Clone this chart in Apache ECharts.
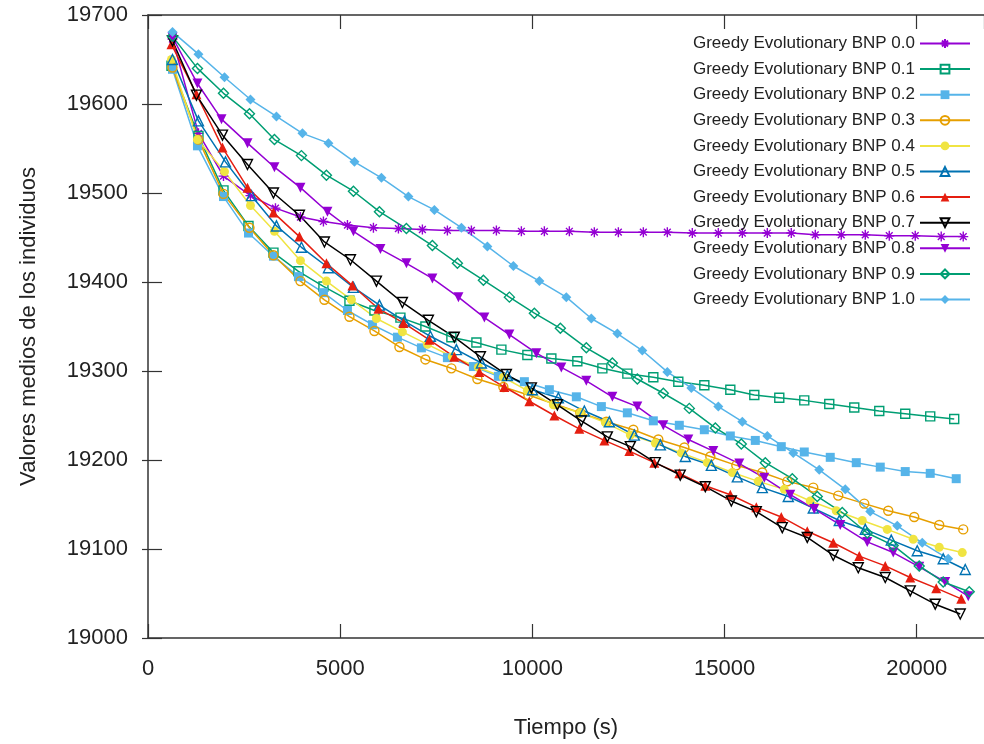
<!DOCTYPE html>
<html>
<head>
<meta charset="utf-8">
<script src="https://cdn.jsdelivr.net/npm/echarts@6/dist/echarts.min.js"></script>
<style>html,body{margin:0;padding:0;background:#fff}#c{width:984px;height:744px}</style>
</head>
<body>
<div id="c"></div>
<script>
const seriesNames = ["Greedy Evolutionary BNP 0.0","Greedy Evolutionary BNP 0.1","Greedy Evolutionary BNP 0.2","Greedy Evolutionary BNP 0.3","Greedy Evolutionary BNP 0.4","Greedy Evolutionary BNP 0.5","Greedy Evolutionary BNP 0.6","Greedy Evolutionary BNP 0.7","Greedy Evolutionary BNP 0.8","Greedy Evolutionary BNP 0.9","Greedy Evolutionary BNP 1.0"];
const xTicks = [0, 5000, 10000, 15000, 20000];
const yTicks = [19000, 19100, 19200, 19300, 19400, 19500, 19600, 19700];

const t00 = [637,1313,1964,2666,3316,3966,4564,5189,5865,6515,7139,7789,8414,9064,9714,10312,10962,11612,12237,12887,13511,14161,14838,15462,16112,16736,17360,18036,18661,19285,19961,20637,21210];
const v00 = [19673,19567,19519,19497,19483,19473,19468,19464,19461,19460,19459,19458,19458,19458,19457,19457,19457,19456,19456,19456,19456,19455,19455,19455,19455,19455,19453,19453,19453,19452,19452,19451,19451];

const t01 = [611,1313,1964,2614,3264,3914,4564,5241,5891,6567,7217,7893,8544,9194,9870,10494,11170,11821,12471,13147,13797,14474,15150,15774,16424,17074,17724,18375,19025,19701,20351,20975];
const v01 = [19643,19564,19503,19463,19433,19412,19395,19379,19368,19360,19350,19338,19332,19324,19318,19314,19311,19303,19297,19293,19288,19284,19279,19273,19270,19267,19263,19259,19255,19252,19249,19246];

const t02 = [637,1287,1964,2614,3264,3914,4564,5189,5839,6489,7113,7789,8466,9116,9792,10442,11144,11795,12471,13147,13823,14474,15150,15800,16476,17074,17750,18427,19051,19701,20351,21027];
const v02 = [19639,19553,19496,19455,19429,19406,19388,19368,19352,19338,19326,19315,19305,19294,19288,19279,19271,19260,19253,19244,19239,19234,19227,19222,19215,19209,19203,19197,19192,19187,19185,19179];

const t03 = [637,1313,1964,2640,3264,3966,4590,5241,5891,6541,7217,7893,8570,9246,9896,10572,11247,11925,12627,13277,13954,14630,15306,15982,16632,17308,17958,18635,19259,19935,20585,21210];
const v03 = [19641,19560,19499,19461,19430,19401,19380,19361,19345,19327,19313,19303,19291,19282,19273,19263,19253,19243,19234,19223,19214,19204,19194,19186,19176,19169,19160,19151,19143,19136,19127,19122];

const t04 = [611,1287,1990,2666,3290,3966,4642,5293,5943,6619,7269,7918,8596,9246,9870,10546,11247,11899,12549,13199,13874,14551,15202,15878,16554,17230,17906,18583,19233,19909,20585,21184];
const v04 = [19650,19560,19524,19486,19457,19424,19401,19380,19359,19344,19330,19316,19304,19293,19278,19262,19253,19242,19228,19219,19208,19197,19186,19176,19167,19154,19143,19132,19122,19111,19102,19096];

const t05 = [637,1313,2016,2692,3342,3992,4694,5345,6021,6671,7347,8024,8674,9350,10000,10676,11352,12003,12653,13329,13979,14656,15332,15982,16658,17308,17984,18661,19337,20013,20689,21262];
const v05 = [19650,19581,19535,19497,19463,19439,19416,19394,19374,19356,19339,19324,19309,19295,19279,19270,19255,19243,19228,19217,19204,19194,19181,19169,19159,19146,19132,19122,19110,19098,19089,19077];

const t06 = [611,1261,1938,2588,3264,3940,4642,5319,5995,6645,7321,7970,8622,9272,9922,10572,11221,11873,12523,13173,13823,14499,15150,15826,16476,17152,17828,18505,19181,19831,20507,21158];
const v06 = [19667,19611,19551,19506,19478,19451,19421,19396,19370,19354,19335,19316,19299,19282,19266,19250,19235,19222,19210,19197,19185,19171,19161,19147,19136,19120,19107,19092,19081,19068,19056,19044];

const t07 = [637,1261,1938,2588,3264,3940,4590,5267,5943,6619,7295,7970,8648,9324,9974,10650,11273,11951,12549,13199,13848,14499,15176,15826,16502,17152,17828,18479,19181,19831,20481,21132];
const v07 = [19671,19610,19565,19532,19500,19475,19445,19425,19401,19377,19357,19338,19316,19296,19281,19262,19244,19226,19215,19197,19183,19170,19154,19142,19124,19113,19093,19079,19068,19053,19038,19027];

const t08 = [637,1287,1912,2588,3290,3966,4668,5345,6047,6723,7399,8076,8752,9402,10104,10753,11404,12081,12731,13407,14057,14708,15384,16034,16710,17334,18010,18713,19389,20065,20741,21340];
const v08 = [19675,19623,19583,19556,19529,19506,19479,19457,19437,19421,19404,19383,19360,19341,19320,19304,19289,19271,19260,19239,19223,19210,19196,19180,19161,19145,19127,19108,19096,19080,19063,19047];

const t09 = [637,1287,1964,2640,3290,3992,4642,5345,6021,6723,7399,8050,8726,9402,10052,10728,11404,12081,12731,13407,14083,14760,15436,16060,16762,17412,18062,18713,19389,20065,20689,21366];
const v09 = [19676,19640,19612,19589,19560,19542,19520,19502,19479,19460,19441,19421,19402,19383,19365,19348,19326,19309,19291,19275,19258,19236,19218,19197,19179,19159,19141,19118,19104,19081,19063,19052];

const t10 = [637,1313,1990,2666,3342,4018,4694,5371,6073,6775,7451,8154,8830,9506,10182,10883,11534,12211,12861,13511,14135,14838,15462,16112,16788,17464,18141,18791,19493,20143,20819];
const v10 = [19681,19656,19630,19605,19586,19567,19556,19535,19517,19496,19481,19461,19440,19418,19401,19383,19359,19342,19323,19299,19281,19260,19243,19227,19208,19189,19167,19142,19126,19107,19089];

const times = [t00,t01,t02,t03,t04,t05,t06,t07,t08,t09,t10];
const values = [v00,v01,v02,v03,v04,v05,v06,v07,v08,v09,v10];

const colors = ['#9400d3','#009e73','#56b4e9','#e69f00','#f0e442','#0072b2','#e51e10','#000000','#9400d3','#009e73','#56b4e9'];
const STAR = 'path://M5,0 L5,10 M0,5 L10,5 M1.6,1.6 L8.4,8.4 M8.4,1.6 L1.6,8.4';
// [symbol, filled, rotate, size]
const marks = [
  [STAR, false, 0, 10],
  ['rect', false, 0, 9],
  ['rect', true, 0, 9],
  ['circle', false, 0, 9],
  ['circle', true, 0, 9],
  ['triangle', false, 0, 10],
  ['triangle', true, 0, 10],
  ['triangle', false, 180, 10],
  ['triangle', true, 180, 10],
  ['diamond', false, 0, 10],
  ['diamond', true, 0, 10]
];

const series = seriesNames.map((name, i) => {
  const m = marks[i];
  const c = colors[i];
  return {
    name: name,
    type: 'line',
    data: times[i].map((t, k) => [t, values[i][k]]),
    color: c,
    symbol: m[0],
    symbolRotate: m[2],
    symbolSize: m[3],
    showAllSymbol: true,
    lineStyle: { color: c, width: 1.5 },
    itemStyle: m[1]
      ? { color: c, borderColor: c, borderWidth: 0 }
      : { color: 'rgba(255,255,255,0)', borderColor: c, borderWidth: 1.4 },
    emphasis: { disabled: true },
    animation: false,
    clip: true
  };
});

const FONT = 'Liberation Sans';
const chart = echarts.init(document.getElementById('c'), null, { renderer: 'canvas' });
chart.setOption({
  backgroundColor: '#ffffff',
  animation: false,
  grid: { left: 148, top: 15, right: 0, bottom: 106, containLabel: false },
  legend: {
    orient: 'vertical',
    right: 13,
    top: 34,
    padding: 0,
    align: 'right',
    itemWidth: 50,
    itemHeight: 11,
    itemGap: 6.6,
    selectedMode: false,
    data: seriesNames,
    textStyle: { fontFamily: FONT, fontSize: 17, color: '#222', lineHeight: 19 }
  },
  xAxis: [
    {
      type: 'value', position: 'bottom', min: 0, max: 21750, interval: 5000,
      name: 'Tiempo (s)', nameLocation: 'middle', nameGap: 79,
      nameTextStyle: { fontFamily: FONT, fontSize: 22, color: '#222' },
      axisLine: { show: true, lineStyle: { color: '#333', width: 1.5 } },
      axisTick: { show: true, inside: true, length: 14, lineStyle: { color: '#333', width: 1.2 } },
      axisLabel: { show: true, margin: 20, fontFamily: FONT, fontSize: 22, color: '#222', showMaxLabel: false,
        formatter: v => (xTicks.indexOf(v) >= 0 ? String(v) : '') },
      splitLine: { show: false }
    },
    {
      type: 'value', position: 'top', min: 0, max: 21750, interval: 5000,
      axisLine: { show: true, lineStyle: { color: '#333', width: 1.5 } },
      axisTick: { show: true, inside: true, length: 14, lineStyle: { color: '#333', width: 1.2 } },
      axisLabel: { show: false },
      splitLine: { show: false }
    }
  ],
  yAxis: [
    {
      type: 'value', position: 'left', min: 19000, max: 19700, interval: 100,
      name: 'Valores medios de los individuos', nameLocation: 'middle', nameGap: 108, nameRotate: 90,
      nameTextStyle: { fontFamily: FONT, fontSize: 22, color: '#222' },
      axisLine: { show: true, lineStyle: { color: '#333', width: 1.5 } },
      axisTick: { show: true, inside: true, length: 14, lineStyle: { color: '#333', width: 1.2 } },
      axisLabel: { show: true, margin: 20, fontFamily: FONT, fontSize: 22, color: '#222',
        formatter: v => (yTicks.indexOf(v) >= 0 ? String(v) : '') },
      splitLine: { show: false }
    },
    {
      type: 'value', position: 'right', min: 19000, max: 19700, interval: 100,
      axisLine: { show: false },
      axisTick: { show: true, inside: true, length: 6, lineStyle: { color: '#333', width: 1.2 } },
      axisLabel: { show: false },
      splitLine: { show: false }
    }
  ],
  series: series
});
</script>
</body>
</html>
